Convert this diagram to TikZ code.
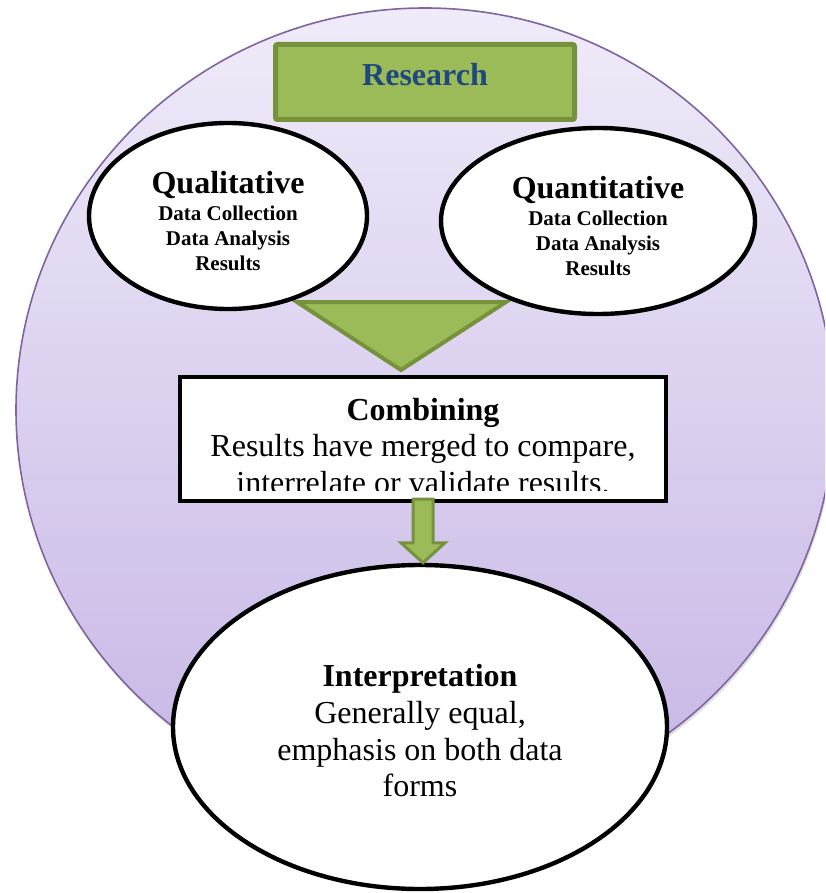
\documentclass[tikz,border=0pt]{standalone}
\usepackage{fontspec}
\setmainfont{Liberation Serif}
\usetikzlibrary{calc,shapes.geometric,shadows}

\definecolor{lavtop}{RGB}{240,235,249}
\definecolor{lavbot}{RGB}{198,181,229}
\definecolor{lavline}{RGB}{128,100,162}
\definecolor{grfill}{RGB}{155,187,89}
\definecolor{grline}{RGB}{118,146,60}
\definecolor{resblue}{RGB}{31,73,125}

\begin{document}
\begin{tikzpicture}[x=0.5pt,y=-0.5pt,
    bigtxt/.style={font=\fontsize{16}{18.3}\selectfont},
    oval/.style={ellipse,draw=black,line width=2.2pt,fill=white,inner sep=0pt,align=center},
    smalloval/.style={oval,minimum height=93pt,font=\fontsize{10.5}{12.5}\selectfont\bfseries},
    grshape/.style={fill=grfill,draw=grline,line width=2pt,line join=miter}]
  \useasboundingbox (0,0) rectangle (825,893);
  \clip (0,0) rectangle (825,893);
  \shade[top color=lavtop,bottom color=lavbot,draw=lavline,line width=0.8pt,
    drop shadow={shadow xshift=0.6pt,shadow yshift=-1.6pt,opacity=0.25}]
    (425,410) ellipse [x radius=204.5pt,y radius=201pt];

  \node[draw=grline,fill=grfill,line width=2.5pt,rounded corners=1pt,minimum width=149.5pt,minimum height=37.5pt,
    text=resblue,font=\fontsize{16}{18}\selectfont\bfseries,text height=11pt,text depth=7pt] (research) at (425,82) {Research};

  \draw[grshape] (297,302) -- (506,302) -- (401,370) -- cycle;

  \node[smalloval,minimum width=139pt] (qual) at (228,216) {\rule{0pt}{16pt}{\fontsize{16}{18}\selectfont Qualitative}\\[1.2pt] Data Collection\\ Data Analysis\\ Results};
  \node[smalloval,minimum width=157pt] (quant) at (598,221) {\rule{0pt}{16pt}{\fontsize{16}{18}\selectfont Quantitative}\\[1.2pt] Data Collection\\ Data Analysis\\ Results};

  \node[draw=black,fill=white,line width=2.2pt,minimum width=243pt,minimum height=62pt,inner sep=0pt] (comb) at (423,439) {};
  \begin{scope}
    \clip ($(comb.north west)+(5,5)$) rectangle ($(comb.east)+(-5,51)$);
    \node[bigtxt,align=center] (combtxt) at (423,446) {\textbf{Combining}\\ Results have merged to compare,\\ interrelate or validate results.};
  \end{scope}

  \node[oval,bigtxt,minimum width=247pt,minimum height=162pt] (interp) at (420,727) {\rule{0pt}{15pt}\textbf{Interpretation}\\ Generally equal,\\ emphasis on both data\\ forms};

  \coordinate (tip) at (comb.south |- interp.north);
  \draw[grshape,line width=1.5pt] ($(comb.south)+(-10,-4)$) -- ($(tip)+(-10,-20)$) -- ($(tip)+(-22,-20)$) -- (tip)
    -- ($(tip)+(22,-20)$) -- ($(tip)+(10,-20)$) -- ($(comb.south)+(10,-4)$) -- cycle;
\end{tikzpicture}
\end{document}
